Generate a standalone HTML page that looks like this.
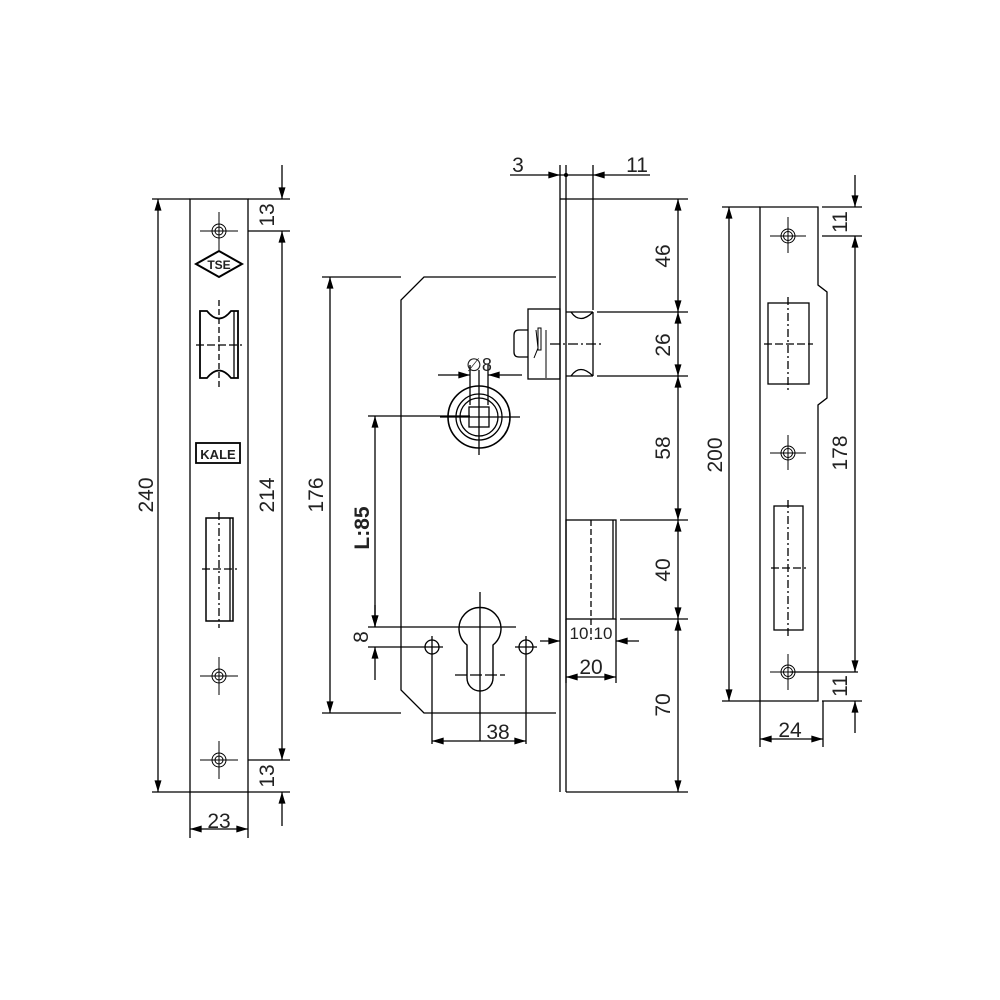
<!DOCTYPE html>
<html><head><meta charset="utf-8"><style>
html,body{margin:0;padding:0;background:#fff}
svg{display:block}
text{font-family:"Liberation Sans",sans-serif;fill:#222}
</style></head><body>
<svg width="1000" height="1000" viewBox="0 0 1000 1000" xmlns="http://www.w3.org/2000/svg">
<defs>
<marker id="a" viewBox="0 0 10 6" refX="10" refY="3" markerWidth="17" markerHeight="7" markerUnits="userSpaceOnUse" orient="auto"><path d="M0,0L10,3L0,6Z" fill="#000"/></marker>
</defs>
<g stroke="#000" stroke-width="1.3" fill="none">
<!-- LEFT FACEPLATE -->
<rect x="190" y="199" width="58" height="593"/>
<line x1="152" y1="199" x2="190" y2="199"/><line x1="152" y1="792" x2="190" y2="792"/>
<line x1="158" y1="495" x2="158" y2="199" marker-end="url(#a)"/><line x1="158" y1="495" x2="158" y2="792" marker-end="url(#a)"/>
<line x1="248" y1="199" x2="290" y2="199"/><line x1="248" y1="231" x2="290" y2="231"/>
<line x1="248" y1="760" x2="290" y2="760"/><line x1="248" y1="792" x2="290" y2="792"/>
<line x1="282" y1="165" x2="282" y2="199" marker-end="url(#a)"/>
<line x1="282" y1="495" x2="282" y2="231" marker-end="url(#a)"/><line x1="282" y1="495" x2="282" y2="760" marker-end="url(#a)"/>
<line x1="282" y1="826" x2="282" y2="792" marker-end="url(#a)"/>
<line x1="190" y1="792" x2="190" y2="838"/><line x1="248" y1="792" x2="248" y2="838"/>
<line x1="219" y1="829" x2="190" y2="829" marker-end="url(#a)"/><line x1="219" y1="829" x2="248" y2="829" marker-end="url(#a)"/>
<g stroke-width="1">
<circle cx="219" cy="231" r="7"/><circle cx="219" cy="231" r="4"/><line x1="200" y1="231" x2="238" y2="231"/><line x1="219" y1="212" x2="219" y2="250"/>
<circle cx="219" cy="676" r="7"/><circle cx="219" cy="676" r="4"/><line x1="200" y1="676" x2="238" y2="676"/><line x1="219" y1="657" x2="219" y2="695"/>
<circle cx="219" cy="760" r="7"/><circle cx="219" cy="760" r="4"/><line x1="200" y1="760" x2="238" y2="760"/><line x1="219" y1="741" x2="219" y2="779"/>
</g>
<path d="M196,264L219,251L242,264L219,277Z" stroke-width="2"/>
<path d="M200,311L207,311Q219,326 231,311L238,311L238,378L231,378Q219,363 207,378L200,378Z" stroke-width="1.8"/>
<line x1="234" y1="311" x2="234" y2="378"/>
<line x1="196" y1="345" x2="242" y2="345" stroke-dasharray="8,3"/>
<line x1="219" y1="300" x2="219" y2="390" stroke-dasharray="6,3"/>
<rect x="196" y="443" width="44" height="20" stroke-width="1.8"/>
<rect x="206" y="518" width="27" height="103" stroke-width="1.5"/>
<line x1="230" y1="518" x2="230" y2="621"/>
<line x1="219" y1="512" x2="219" y2="628" stroke-dasharray="8,3,2,3"/>
<line x1="202" y1="569" x2="237" y2="569" stroke-dasharray="8,3"/>

<!-- LOCK BODY -->
<path d="M556,277L424,277L401,300L401,690L424,713L556,713"/>
<line x1="322" y1="277" x2="401" y2="277"/><line x1="322" y1="713" x2="401" y2="713"/>
<line x1="330" y1="495" x2="330" y2="277" marker-end="url(#a)"/><line x1="330" y1="495" x2="330" y2="713" marker-end="url(#a)"/>
<line x1="560" y1="199" x2="560" y2="792"/><line x1="566" y1="199" x2="566" y2="792"/>
<line x1="560" y1="199" x2="566" y2="199"/>
<line x1="560" y1="165" x2="560" y2="199"/><line x1="566" y1="165" x2="566" y2="199"/>
<line x1="593" y1="165" x2="593" y2="310"/>
<line x1="510" y1="175" x2="560" y2="175" marker-end="url(#a)"/>
<line x1="650" y1="175" x2="593" y2="175" marker-end="url(#a)"/>
<line x1="560" y1="175" x2="593" y2="175"/>
<circle cx="566" cy="175" r="1.5" fill="#000"/>
<line x1="566" y1="199" x2="688" y2="199"/>
<line x1="566" y1="792" x2="688" y2="792"/>
<rect x="528" y="309" width="32" height="70"/>
<path d="M528,330L519,330Q514,330 514,335L514,352Q514,357 519,357L528,357"/>
<path d="M536,330L538,348L534,358 M546,330L546,378" stroke-width="1"/>
<rect x="538" y="328" width="3" height="22" stroke-width="1"/>
<path d="M566,312L593,312M566,376L593,376"/>
<path d="M571,312Q580,325 593,312M571,376Q580,363 593,376"/>
<line x1="593" y1="312" x2="593" y2="376"/>
<line x1="550" y1="344" x2="604" y2="344" stroke-dasharray="10,3,2,3"/>
<line x1="597" y1="312" x2="688" y2="312"/><line x1="597" y1="376" x2="688" y2="376"/>
<circle cx="479" cy="417" r="31" stroke-width="1.6"/>
<circle cx="479" cy="417" r="23"/><circle cx="479" cy="417" r="19"/>
<rect x="469" y="407" width="20" height="20"/>
<line x1="440" y1="417" x2="520" y2="417"/><line x1="479" y1="370" x2="479" y2="455"/>
<line x1="470" y1="365" x2="470" y2="405"/><line x1="488" y1="365" x2="488" y2="405"/>
<line x1="438" y1="375" x2="470" y2="375" marker-end="url(#a)"/><line x1="522" y1="375" x2="488" y2="375" marker-end="url(#a)"/>
<line x1="368" y1="416" x2="470" y2="416"/>
<line x1="375" y1="520" x2="375" y2="416" marker-end="url(#a)"/><line x1="375" y1="520" x2="375" y2="627" marker-end="url(#a)"/>
<path d="M467,645A21,21 0 1 1 493,645L493,678A13,13 0 0 1 467,678Z" stroke-width="1.4"/>
<line x1="480" y1="592" x2="480" y2="741"/>
<line x1="455" y1="675" x2="505" y2="675" stroke-dasharray="12,3"/>
<line x1="368" y1="627" x2="516" y2="627"/>
<line x1="368" y1="647" x2="443" y2="647"/>
<circle cx="432" cy="647" r="7"/><circle cx="526" cy="647" r="7"/>
<line x1="515" y1="647" x2="537" y2="647"/><line x1="526" y1="636" x2="526" y2="744"/>
<line x1="432" y1="636" x2="432" y2="744"/>
<line x1="375" y1="605" x2="375" y2="627" marker-end="url(#a)"/>
<line x1="375" y1="680" x2="375" y2="647" marker-end="url(#a)"/>
<line x1="480" y1="741" x2="432" y2="741" marker-end="url(#a)"/><line x1="480" y1="741" x2="526" y2="741" marker-end="url(#a)"/>
<rect x="566" y="520" width="50" height="99"/>
<line x1="613" y1="520" x2="613" y2="619"/>
<line x1="591" y1="520" x2="591" y2="640" stroke-dasharray="6,3"/>
<line x1="620" y1="520" x2="688" y2="520"/><line x1="620" y1="619" x2="688" y2="619"/>
<line x1="616" y1="619" x2="616" y2="683"/><line x1="566" y1="619" x2="566" y2="683"/>
<line x1="540" y1="641" x2="560" y2="641" marker-end="url(#a)"/>
<line x1="639" y1="641" x2="616" y2="641" marker-end="url(#a)"/>
<line x1="591" y1="677" x2="566" y2="677" marker-end="url(#a)"/><line x1="591" y1="677" x2="616" y2="677" marker-end="url(#a)"/>
<line x1="678" y1="255" x2="678" y2="199" marker-end="url(#a)"/><line x1="678" y1="255" x2="678" y2="312" marker-end="url(#a)"/>
<line x1="678" y1="344" x2="678" y2="312" marker-end="url(#a)"/><line x1="678" y1="344" x2="678" y2="376" marker-end="url(#a)"/>
<line x1="678" y1="448" x2="678" y2="376" marker-end="url(#a)"/><line x1="678" y1="448" x2="678" y2="520" marker-end="url(#a)"/>
<line x1="678" y1="570" x2="678" y2="520" marker-end="url(#a)"/><line x1="678" y1="570" x2="678" y2="619" marker-end="url(#a)"/>
<line x1="678" y1="705" x2="678" y2="619" marker-end="url(#a)"/><line x1="678" y1="705" x2="678" y2="792" marker-end="url(#a)"/>

<!-- STRIKE -->
<path d="M760,207L818,207L818,285L827,292L827,398L818,405L818,701L760,701Z"/>
<line x1="722" y1="207" x2="760" y2="207"/><line x1="722" y1="701" x2="760" y2="701"/>
<line x1="729" y1="455" x2="729" y2="207" marker-end="url(#a)"/><line x1="729" y1="455" x2="729" y2="701" marker-end="url(#a)"/>
<line x1="822" y1="207" x2="862" y2="207"/><line x1="822" y1="236" x2="862" y2="236"/>
<line x1="822" y1="701" x2="862" y2="701"/>
<line x1="855" y1="175" x2="855" y2="207" marker-end="url(#a)"/>
<line x1="855" y1="453" x2="855" y2="236" marker-end="url(#a)"/><line x1="855" y1="453" x2="855" y2="672" marker-end="url(#a)"/>
<line x1="855" y1="733" x2="855" y2="701" marker-end="url(#a)"/>
<line x1="790" y1="672" x2="858" y2="672"/>
<g stroke-width="1">
<circle cx="788" cy="236" r="7"/><circle cx="788" cy="236" r="4.5"/><line x1="770" y1="236" x2="806" y2="236"/><line x1="788" y1="217" x2="788" y2="253"/>
<circle cx="788" cy="453" r="7"/><circle cx="788" cy="453" r="4.5"/><line x1="770" y1="453" x2="806" y2="453"/><line x1="788" y1="435" x2="788" y2="470"/>
<circle cx="788" cy="672" r="7"/><circle cx="788" cy="672" r="4.5"/><line x1="770" y1="672" x2="806" y2="672"/><line x1="788" y1="654" x2="788" y2="690"/>
</g>
<rect x="768" y="303" width="41" height="81"/>
<line x1="788" y1="297" x2="788" y2="390" stroke-dasharray="8,3,2,3"/>
<line x1="764" y1="344" x2="813" y2="344" stroke-dasharray="8,3"/>
<rect x="774" y="506" width="29" height="124"/>
<line x1="788" y1="500" x2="788" y2="636" stroke-dasharray="8,3,2,3"/>
<line x1="771" y1="568" x2="806" y2="568" stroke-dasharray="8,3"/>
<line x1="760" y1="701" x2="760" y2="747"/><line x1="823" y1="701" x2="823" y2="747"/>
<line x1="790" y1="739" x2="760" y2="739" marker-end="url(#a)"/><line x1="790" y1="739" x2="823" y2="739" marker-end="url(#a)"/>
</g>
<g font-size="21">
<text transform="translate(159,495) rotate(-90)" text-anchor="middle" dy="-6">240</text>
<text transform="translate(280,495) rotate(-90)" text-anchor="middle" dy="-6">214</text>
<text transform="translate(280,215) rotate(-90)" text-anchor="middle" dy="-6">13</text>
<text transform="translate(280,776) rotate(-90)" text-anchor="middle" dy="-6">13</text>
<text x="219" y="828" text-anchor="middle">23</text>
<text transform="translate(329,495) rotate(-90)" text-anchor="middle" dy="-6">176</text>
<text transform="translate(374,528) rotate(-90)" text-anchor="middle" dy="-5" font-weight="bold">L:85</text>
<text transform="translate(374,637) rotate(-90)" text-anchor="middle" dy="-6">8</text>
<text x="498" y="739" text-anchor="middle">38</text>
<text x="518" y="172" text-anchor="middle">3</text>
<text x="637" y="172" text-anchor="middle">11</text>
<text x="479" y="371" text-anchor="middle" font-size="18">∅8</text>
<text x="591" y="674" text-anchor="middle">20</text>
<text x="579" y="639" text-anchor="middle" font-size="17">10</text>
<text x="603" y="639" text-anchor="middle" font-size="17">10</text>
<text transform="translate(676,256) rotate(-90)" text-anchor="middle" dy="-6">46</text>
<text transform="translate(676,345) rotate(-90)" text-anchor="middle" dy="-6">26</text>
<text transform="translate(676,448) rotate(-90)" text-anchor="middle" dy="-6">58</text>
<text transform="translate(676,570) rotate(-90)" text-anchor="middle" dy="-6">40</text>
<text transform="translate(676,705) rotate(-90)" text-anchor="middle" dy="-6">70</text>
<text transform="translate(728,455) rotate(-90)" text-anchor="middle" dy="-6">200</text>
<text transform="translate(853,453) rotate(-90)" text-anchor="middle" dy="-6">178</text>
<text transform="translate(853,222) rotate(-90)" text-anchor="middle" dy="-6">11</text>
<text transform="translate(853,686) rotate(-90)" text-anchor="middle" dy="-6">11</text>
<text x="790" y="737" text-anchor="middle">24</text>
<text x="219" y="269" text-anchor="middle" font-size="12" font-weight="bold">TSE</text>
<text x="218" y="459" text-anchor="middle" font-size="13" font-weight="bold">KALE</text>
</g>
</svg>
</body></html>
